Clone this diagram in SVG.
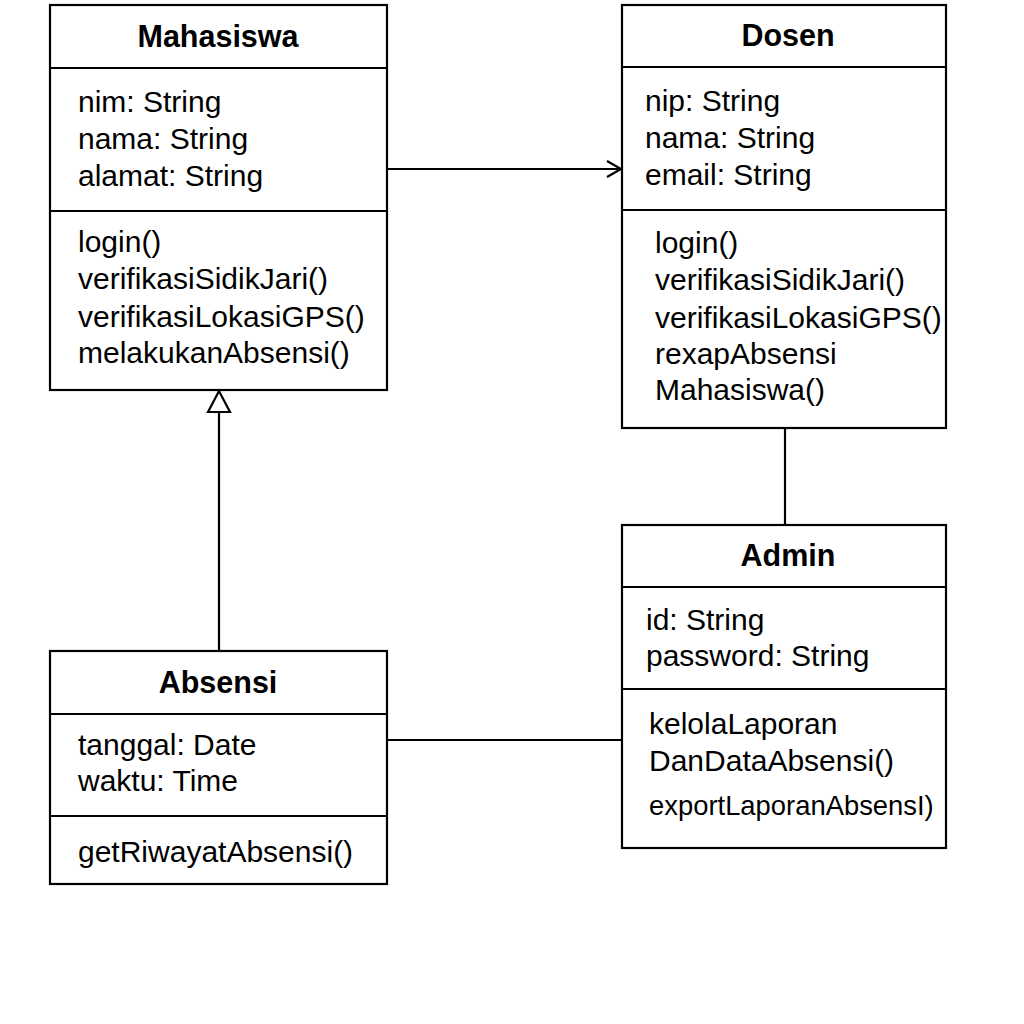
<svg xmlns="http://www.w3.org/2000/svg" width="1024" height="1024" viewBox="0 0 1024 1024">
<defs>
<style>
.box{fill:#fff;stroke:#000;stroke-width:2.2}
.div{stroke:#000;stroke-width:2.2}
.t{font-family:"Liberation Sans",Arial,Helvetica,sans-serif;font-size:30px;fill:#000}
.h{font-family:"Liberation Sans",Arial,Helvetica,sans-serif;font-size:30.5px;font-weight:bold;fill:#000;text-anchor:middle}
.c{stroke:#000;stroke-width:2.2;fill:none}
</style>
<marker id="open" markerWidth="20" markerHeight="20" refX="17" refY="10" orient="auto" markerUnits="userSpaceOnUse">
<path d="M3,2 L17,10 L3,18" fill="none" stroke="#000" stroke-width="2.2"/>
</marker>
<marker id="tri" markerWidth="26" markerHeight="26" refX="23" refY="13" orient="auto" markerUnits="userSpaceOnUse">
<path d="M2,2 L23,13 L2,24 Z" fill="#fff" stroke="#000" stroke-width="2.2"/>
</marker>
</defs>
<rect width="1024" height="1024" fill="#fff"/>
<g id="connectors">
<line class="c" x1="387" y1="169" x2="621" y2="169" marker-end="url(#open)"/>
<line class="c" x1="219" y1="651" x2="219" y2="391" marker-end="url(#tri)"/>
<line class="c" x1="785" y1="428" x2="785" y2="525"/>
<line class="c" x1="387" y1="740" x2="622" y2="740"/>
</g>
<g id="Mahasiswa">
<rect class="box" x="50" y="5" width="337" height="385"/>
<line class="div" x1="50" y1="68" x2="387" y2="68"/>
<line class="div" x1="50" y1="211" x2="387" y2="211"/>
<text class="h" x="218" y="47">Mahasiswa</text>
<text class="t" x="78" y="112">nim: String</text>
<text class="t" x="78" y="149">nama: String</text>
<text class="t" x="78" y="186">alamat: String</text>
<text class="t" x="78" y="252">login()</text>
<text class="t" x="78" y="289">verifikasiSidikJari()</text>
<text class="t" x="78" y="327">verifikasiLokasiGPS()</text>
<text class="t" x="78" y="363">melakukanAbsensi()</text>
</g>
<g id="Dosen">
<rect class="box" x="622" y="5" width="324" height="423"/>
<line class="div" x1="622" y1="67" x2="946" y2="67"/>
<line class="div" x1="622" y1="210" x2="946" y2="210"/>
<text class="h" x="788" y="46">Dosen</text>
<text class="t" x="645" y="111">nip: String</text>
<text class="t" x="645" y="148">nama: String</text>
<text class="t" x="645" y="185">email: String</text>
<text class="t" x="655" y="253">login()</text>
<text class="t" x="655" y="290">verifikasiSidikJari()</text>
<text class="t" x="655" y="328">verifikasiLokasiGPS()</text>
<text class="t" x="655" y="364">rexapAbsensi</text>
<text class="t" x="655" y="400">Mahasiswa()</text>
</g>
<g id="Admin">
<rect class="box" x="622" y="525" width="324" height="323"/>
<line class="div" x1="622" y1="587" x2="946" y2="587"/>
<line class="div" x1="622" y1="689" x2="946" y2="689"/>
<text class="h" x="788" y="566">Admin</text>
<text class="t" x="646" y="630">id: String</text>
<text class="t" x="646" y="666">password: String</text>
<text class="t" x="649" y="734">kelolaLaporan</text>
<text class="t" x="649" y="771">DanDataAbsensi()</text>
<text class="t" x="649" y="815" style="font-size:27.4px">exportLaporanAbsensI)</text>
</g>
<g id="Absensi">
<rect class="box" x="50" y="651" width="337" height="233"/>
<line class="div" x1="50" y1="714" x2="387" y2="714"/>
<line class="div" x1="50" y1="816" x2="387" y2="816"/>
<text class="h" x="218" y="693">Absensi</text>
<text class="t" x="78" y="755">tanggal: Date</text>
<text class="t" x="78" y="791">waktu: Time</text>
<text class="t" x="78" y="862">getRiwayatAbsensi()</text>
</g>
</svg>
